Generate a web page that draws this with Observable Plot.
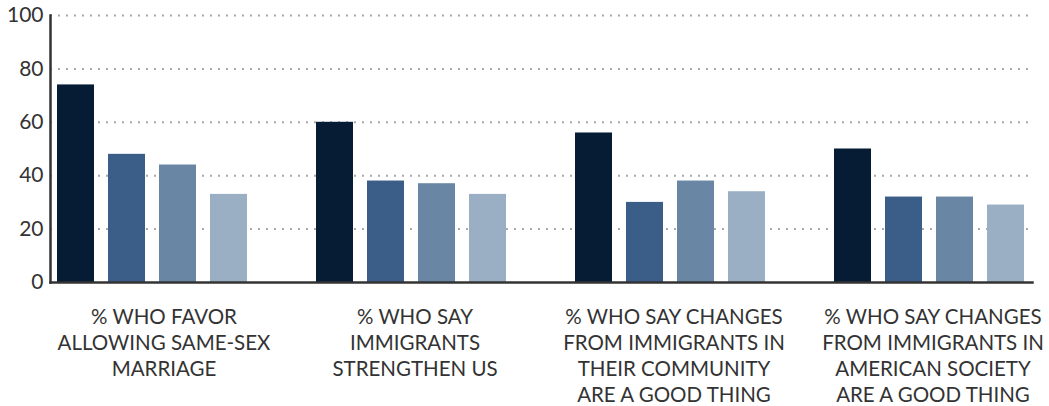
<!DOCTYPE html>
<html><head><meta charset="utf-8">
<script src="https://cdn.jsdelivr.net/npm/d3@7"></script>
<script src="https://cdn.jsdelivr.net/npm/@observablehq/plot@0.6"></script>
<style>body{margin:0;background:#fff;}</style>
</head><body><div id="chart"></div>
<script>
const categories = [
  "% WHO FAVOR\nALLOWING SAME-SEX\nMARRIAGE",
  "% WHO SAY\nIMMIGRANTS\nSTRENGTHEN US",
  "% WHO SAY CHANGES\nFROM IMMIGRANTS IN\nTHEIR COMMUNITY\nARE A GOOD THING",
  "% WHO SAY CHANGES\nFROM IMMIGRANTS IN\nAMERICAN SOCIETY\nARE A GOOD THING"
];
const seriesNames = ["Series 1", "Series 2", "Series 3", "Series 4"];
const series1 = [74, 60, 56, 50];
const series2 = [48, 38, 30, 32];
const series3 = [44, 37, 38, 32];
const series4 = [33, 33, 34, 29];
const yTicks = [0, 20, 40, 60, 80, 100];
const colors = ["#061b34", "#3a5e87", "#6986a5", "#9aafc3"];

const allSeries = [series1, series2, series3, series4];
const data = categories.flatMap((c, i) =>
  allSeries.map((s, j) => ({category: c, series: seriesNames[j], value: s[i]})));

const W = 1049, H = 406, ML = 50, MR = 17, MT = 15, MB = 124;
const fxPadInner = 0.2085;
// band width of one facet, derived from the same fx scale settings
const plotW = W - ML - MR;
const fxStep = plotW / (categories.length - fxPadInner);
const fxBand = fxStep * (1 - fxPadInner);

const plot = Plot.plot({
  width: W, height: H,
  marginLeft: ML, marginRight: MR, marginTop: MT, marginBottom: MB,
  style: {fontFamily: "Lato", background: "#fff"},
  fx: {domain: categories, paddingInner: fxPadInner, paddingOuter: 0, axis: null},
  x: {domain: seriesNames, paddingInner: 0.27, paddingOuter: 0.13, axis: null},
  y: {domain: [0, 100], axis: null},
  color: {domain: seriesNames, range: colors},
  marks: [
    // dotted grid drawn once (first facet), spanning the whole plot width
    Plot.ruleY(yTicks.filter(d => d > 0), {fx: () => categories[0], y: d => d, insetRight: -(plotW - fxBand), stroke: "#a9a9a9", strokeWidth: 2, strokeDasharray: "2,6"}),
    Plot.barY(data, {fx: "category", x: "series", y: "value", fill: "series"}),
    Plot.frame({anchor: "bottom", facet: "super", stroke: "#333", strokeWidth: 2.5}),
    Plot.frame({anchor: "left", facet: "super", stroke: "#333", strokeWidth: 2.5}),
    Plot.axisY({ticks: yTicks, tickSize: 0, tickPadding: 7, fontSize: 21, color: "#333", label: null}),
    Plot.text([categories[0]], {fx: d => d, text: d => d, frameAnchor: "bottom", lineAnchor: "top", dy: 23, dx: 11, fontSize: 20.5, lineHeight: 1.27, fill: "#333"}),
    Plot.text(categories.slice(1), {fx: d => d, text: d => d, frameAnchor: "bottom", lineAnchor: "top", dy: 23, dx: 3, fontSize: 20.5, lineHeight: 1.27, fill: "#333"})
  ]
});
document.getElementById("chart").appendChild(plot);
</script>
</body></html>
